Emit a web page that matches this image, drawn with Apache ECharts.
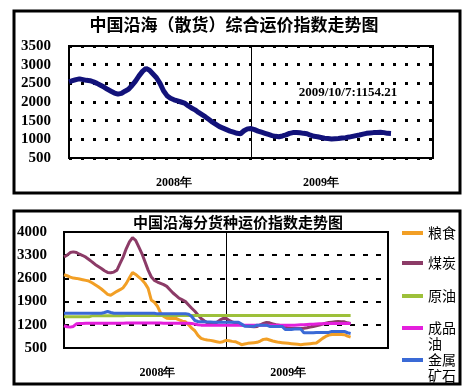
<!DOCTYPE html>
<html><head><meta charset="utf-8">
<script src="https://cdn.jsdelivr.net/npm/echarts/dist/echarts.min.js"></script>
<style>html,body{margin:0;padding:0;background:#fff}#c{width:463px;height:387px}</style>
</head><body><div id="c"></div>
<script>
// ---- data ----
const yearLabels = ['2008年', '2009年'];
const topTitle = '中国沿海（散货）综合运价指数走势图';
const bottomTitle = '中国沿海分货种运价指数走势图';
const latestLabel = '2009/10/7:1154.21';
const seriesNames = ['粮食', '煤炭', '原油', '成品油', '金属矿石'];
const legendTexts = ['粮食', '煤炭', '原油', '\n成品\n油', '\n金属\n矿石'];

// weekly composite index, from first week of 2008
const composite = [2540,2570,2600,2620,2600,2580,2570,2540,2500,2450,
 2400,2340,2290,2240,2210,2230,2290,2340,2440,2560,
 2700,2820,2900,2850,2750,2650,2500,2300,2170,2100,
 2060,2030,2000,1970,1900,1840,1790,1720,1660,1600,
 1530,1460,1400,1340,1300,1260,1220,1190,1160,1150,
 1230,1280,1290,1260,1220,1190,1160,1130,1100,1080,
 1070,1090,1120,1160,1180,1185,1175,1160,1150,1110,
 1080,1070,1050,1030,1020,1010,1015,1020,1035,1045,
 1060,1080,1100,1115,1140,1160,1170,1180,1185,1190,
 1180,1160,1154.21];

const grain = [2710,2680,2640,2610,2600,2580,2560,2540,2520,2470,
 2410,2350,2280,2200,2120,2090,2150,2210,2260,2320,
 2450,2620,2780,2720,2640,2560,2450,2300,1950,1880,
 1760,1560,1450,1400,1390,1400,1390,1350,1310,1290,
 1200,1100,1020,880,790,760,740,730,710,690,
 670,690,730,720,700,690,650,600,620,640,
 650,660,670,710,760,770,740,710,690,670,
 660,650,640,630,620,610,600,610,620,630,
 640,650,720,790,850,890,910,910,905,910,
 900,860,830];

const coal = [3250,3300,3380,3400,3380,3330,3290,3240,3170,3100,
 3020,2960,2900,2830,2780,2770,2790,2850,3050,3250,
 3500,3700,3830,3750,3550,3350,3100,2850,2650,2540,
 2490,2450,2410,2360,2260,2160,2080,2000,1950,1900,
 1800,1700,1610,1500,1390,1320,1260,1220,1230,1270,
 1340,1390,1400,1330,1290,1260,1220,1190,1180,1160,
 1150,1140,1150,1200,1240,1270,1260,1230,1200,1190,
 1160,1130,1100,1090,1090,1085,1090,1095,1110,1130,
 1150,1170,1190,1220,1250,1270,1280,1290,1300,1295,
 1290,1260,1240];

const crude = [1440,1440,1440,1440,1440,1440,1440,1440,1440,1470,
 1475,1475,1475,1475,1475,1475,1475,1475,1475,1475,
 1480,1480,1480,1480,1480,1480,1480,1480,1480,1480,
 1480,1480,1480,1480,1480,1480,1480,1480,1480,1480,
 1480,1480,1480,1480,1480,1480,1480,1480,1480,1480,
 1480,1480,1480,1480,1480,1480,1480,1480,1480,1480,
 1480,1480,1480,1480,1480,1480,1480,1480,1480,1480,
 1480,1480,1480,1480,1480,1480,1480,1480,1480,1480,
 1480,1480,1480,1480,1480,1480,1480,1480,1480,1480,
 1480,1480,1480];

const refined = [1170,1140,1130,1150,1230,1240,1240,1245,1245,1245,
 1245,1245,1245,1245,1245,1245,1245,1250,1250,1250,
 1255,1255,1255,1255,1255,1255,1255,1255,1255,1255,
 1255,1255,1250,1250,1250,1250,1250,1250,1250,1250,
 1250,1240,1220,1200,1190,1190,1190,1190,1190,1190,
 1190,1190,1190,1190,1190,1190,1190,1190,1185,1185,
 1185,1185,1185,1185,1185,1190,1190,1190,1190,1190,
 1190,1190,1190,1190,1190,1195,1200,1205,1210,1215,
 1220,1225,1230,1235,1240,1240,1240,1240,1240,1240,
 1240,1240,1240];

const ore = [1550,1550,1550,1550,1550,1550,1550,1550,1550,1550,
 1550,1550,1550,1570,1600,1570,1550,1550,1550,1550,
 1550,1550,1550,1550,1550,1550,1550,1550,1550,1550,
 1530,1530,1530,1530,1530,1530,1530,1530,1530,1530,
 1520,1450,1330,1300,1290,1290,1285,1285,1280,1280,
 1275,1275,1275,1280,1280,1280,1280,1220,1160,1160,
 1155,1150,1190,1190,1190,1190,1150,1150,1150,1150,
 1150,1060,1060,1060,1070,1070,1070,960,960,960,
 960,970,970,970,970,970,1000,1000,1000,1000,
 1000,960,940];

const weeksSpan = 104;
const yearLabelWeeks = [30, 72];

// ---- chart ----
const serif = '"Liberation Serif", "Times New Roman", serif';
const cjk = '"Noto Sans CJK SC", sans-serif';
const colors = ['#F29F25', '#8C3B67', '#9DC03A', '#E41FDC', '#3A6AD6'];
const bottomData = [grain, coal, crude, refined, ore];
const toPts = a => a.map((v, i) => [i, v]);

const chart = echarts.init(document.getElementById('c'), null, {renderer: 'canvas'});

function xAxisCfg(gi) {
  return {
    gridIndex: gi, type: 'value', min: 0, max: weeksSpan, interval: weeksSpan / 2,
    axisLine: {show: false}, axisTick: {show: false},
    splitLine: {show: true, lineStyle: {color: '#000', width: 1}},
    axisLabel: {
      customValues: yearLabelWeeks,
      formatter: v => (v < weeksSpan / 2 ? yearLabels[0] : yearLabels[1]),
      margin: 19, color: '#000', fontFamily: serif, fontWeight: 'bold', fontSize: 12
    }
  };
}

const legends = seriesNames.map((n, i) => ({
  data: [n], left: 402, top: [225, 255, 288, 304, 336][i], orient: 'vertical',
  icon: 'rect', itemWidth: 21, itemHeight: 4, selectedMode: false, padding: 0,
  formatter: () => legendTexts[i],
  textStyle: {fontSize: 14, fontFamily: cjk, color: '#000', lineHeight: 16}
}));

const yLabel = {color: '#000', fontFamily: serif, fontWeight: 'bold', fontSize: 15, formatter: v => String(v)};

const option = {
  animation: false,
  backgroundColor: '#fff',
  grid: [
    {left: 69, top: 46, width: 364, height: 112, show: true, borderColor: '#000', borderWidth: 2, backgroundColor: 'transparent'},
    {left: 64, top: 232, width: 324, height: 116, show: true, borderColor: '#000', borderWidth: 2, backgroundColor: 'transparent'}
  ],
  xAxis: [xAxisCfg(0), xAxisCfg(1)],
  yAxis: [
    {gridIndex: 0, type: 'value', min: 500, max: 3500, interval: 500,
     axisLine: {show: false}, axisTick: {show: false},
     axisLabel: Object.assign({margin: 18}, yLabel),
     splitLine: {lineStyle: {type: [3, 9], width: 3, color: '#000'}}},
    {gridIndex: 1, type: 'value', min: 500, max: 4000, interval: 700,
     axisLine: {show: false}, axisTick: {show: false},
     axisLabel: Object.assign({margin: 17}, yLabel),
     splitLine: {lineStyle: {type: [5, 8], width: 2, color: '#000'}}}
  ],
  legend: legends,
  series: [
    {name: '综合', type: 'line', xAxisIndex: 0, yAxisIndex: 0, data: toPts(composite),
     showSymbol: false, lineStyle: {color: '#12127a', width: 5}, itemStyle: {color: '#12127a'}}
  ].concat(seriesNames.map((n, i) => ({
    name: n, type: 'line', xAxisIndex: 1, yAxisIndex: 1, data: toPts(bottomData[i]),
    showSymbol: false, lineStyle: {color: colors[i], width: 3}, itemStyle: {color: colors[i]}
  }))),
  graphic: [
    {type: 'rect', shape: {x: 14, y: 11, width: 446, height: 182}, style: {fill: 'none', stroke: '#000', lineWidth: 3}},
    {type: 'rect', shape: {x: 14, y: 211, width: 446, height: 173}, style: {fill: 'none', stroke: '#000', lineWidth: 3}},
    {type: 'text', x: 234, y: 25, style: {text: topTitle, font: 'bold 17px ' + cjk, fill: '#000', align: 'center', verticalAlign: 'middle'}},
    {type: 'text', x: 238, y: 222, style: {text: bottomTitle, font: 'bold 15px ' + cjk, fill: '#000', align: 'center', verticalAlign: 'middle'}},
    {type: 'rect', shape: {x: 282, y: 78, width: 136, height: 27}, style: {fill: '#fff'}},
    {type: 'text', x: 348, y: 93, style: {text: latestLabel, font: 'bold 13px ' + serif, fill: '#000', align: 'center', verticalAlign: 'middle'}}
  ]
};
chart.setOption(option);
</script>
</body></html>
